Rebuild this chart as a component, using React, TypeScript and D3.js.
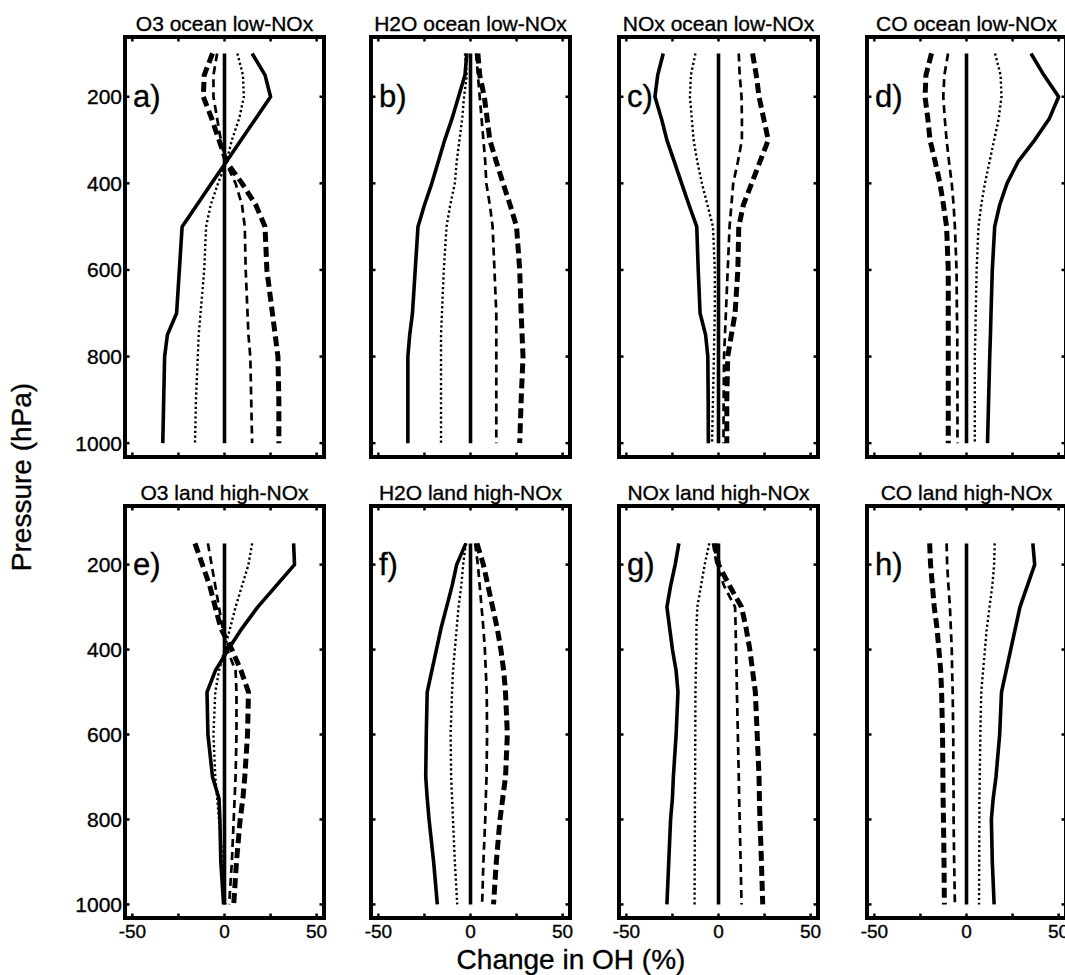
import React from 'react';
import * as d3 from 'd3';

// Pressure levels (hPa)
const TOP_LEVELS = [100, 150, 200, 250, 300, 350, 400, 450, 500, 600, 700, 750, 800, 900, 1000];
const BOTTOM_LEVELS = [150, 200, 250, 300, 350, 400, 450, 500, 600, 700, 750, 800, 900, 1000];

const X_TICKS = [-50, -25, 0, 25, 50];
const X_TICK_LABELS = [-50, 0, 50];
const Y_TICKS = [200, 400, 600, 800, 1000];

const PANEL_TITLES = [
  'O3 ocean low-NOx', 'H2O ocean low-NOx', 'NOx ocean low-NOx', 'CO ocean low-NOx',
  'O3 land high-NOx', 'H2O land high-NOx', 'NOx land high-NOx', 'CO land high-NOx',
];
const PANEL_LETTERS = ['a)', 'b)', 'c)', 'd)', 'e)', 'f)', 'g)', 'h)'];

// a) O3 ocean low-NOx
const A_SOLID = [15, 22, 25, 17, 9, 1, -7, -15, -23, -24.5, -26, -31, -32.5, -33, -33.5];
const A_DOTTED = [7, 10, 10.5, 8, 4, 1, -3.5, -7.5, -10, -11, -13, -14, -14.5, -15.5, -16];
const A_THIN_DASH = [-4, -6, -6, -4, -2, 0.5, 6, 9.5, 11, 11.5, 12.5, 13, 14, 14.5, 15];
const A_THICK_DASH = [-6.5, -11, -11.5, -7, -3, 1, 9.5, 17, 22, 23, 26, 27.5, 29, 29.5, 29.5];

// b) H2O ocean low-NOx
const B_SOLID = [-2, -3, -6.5, -10, -14, -17.5, -21, -25, -28.5, -30, -31.5, -33, -34, -34, -34];
const B_DOTTED = [-3, -2, -3.5, -4.5, -6, -7.5, -8.5, -11, -13, -14.5, -15.5, -16, -16, -16, -16];
const B_THIN_DASH = [3, 4, 5, 6, 7, 8, 8.6, 10.5, 12, 13, 14, 14, 14, 14, 14];
const B_THICK_DASH = [4, 5, 7.5, 9, 10.5, 14, 17.7, 21.5, 25, 26.7, 27.5, 28, 28.5, 27.5, 26.7];

// c) NOx ocean low-NOx
const C_SOLID = [-30, -33, -34.5, -31, -28, -24, -20, -16, -11.8, -11, -10, -7, -5.8, -5.6, -5.5];
const C_DOTTED = [-12.5, -15, -15.5, -14.5, -13.5, -11.5, -9, -6, -3, -2, -2, -2.3, -2.5, -3, -3.5];
const C_THIN_DASH = [11, 11.5, 12.5, 12.7, 12.7, 10.5, 8, 7, 6, 5, 4, 3.5, 3, 2.8, 2.7];
const C_THICK_DASH = [18.5, 20.5, 22, 24.5, 27, 22.5, 18, 13.5, 11, 10.5, 9, 7, 5, 4.5, 4.5];

// d) CO ocean low-NOx
const D_SOLID = [35, 42, 50, 45, 37, 28, 22, 18, 15.3, 14, 13.3, 13, 12.6, 12, 11.4];
const D_DOTTED = [15.5, 18.5, 19, 17.5, 15, 12.5, 10, 8, 6.5, 5.5, 5, 4.8, 4.5, 4.5, 4.5];
const D_THIN_DASH = [-10, -12, -12.6, -11.8, -10.8, -9.5, -8, -7, -6.3, -5.4, -5.2, -5, -5, -4.9, -4.9];
const D_THICK_DASH = [-19, -22, -22.5, -21, -19.8, -17, -14.4, -12.5, -10.8, -9.9, -9.9, -9.9, -9.9, -9.9, -9.9];

// e) O3 land high-NOx
const E_SOLID = [37.5, 38, 28, 18, 9.5, 2, -5, -9.5, -9, -6.5, -3, -2.5, -2, -0.5];
const E_DOTTED = [15, 13, 9.5, 6, 3, 0, -3, -5, -6, -5, -4, -3, -1, 0.5];
const E_THIN_DASH = [-9, -7, -5, -3, -1, 1.5, 6, 6.5, 6.5, 6, 5.5, 5, 4, 2.5];
const E_THICK_DASH = [-16, -12, -8, -5, -2, 4, 9, 13, 12.5, 11, 10, 8.5, 6.5, 5];

// f) H2O land high-NOx
const F_SOLID = [-2.5, -7.5, -10, -13, -16, -18.5, -21, -23.5, -24, -24.3, -23.5, -22.5, -20, -18];
const F_DOTTED = [-2.5, -4, -5, -6.5, -7.5, -8.5, -9.5, -10, -10.8, -10.5, -10, -9.5, -8.5, -7.2];
const F_THIN_DASH = [2.5, 4, 5, 6, 7, 7.8, 8.3, 8.8, 9, 8.7, 8.3, 8, 7, 6.3];
const F_THICK_DASH = [3.5, 7, 9.5, 12, 14.5, 16.5, 18, 19, 20, 19, 17.5, 16, 14, 12.5];

// g) NOx land high-NOx
const G_SOLID = [-21.5, -23.5, -26, -28, -26.5, -25, -23, -22, -23, -24.5, -25, -26, -27, -28];
const G_DOTTED = [-5, -7.5, -9.5, -11.5, -12, -12, -12.3, -12.5, -12.6, -12.7, -12.8, -12.8, -12.9, -13];
const G_THIN_DASH = [-3, -1, 3, 9, 9.3, 9.5, 9.8, 10, 10.5, 11, 11.2, 11.5, 12, 12.5];
const G_THICK_DASH = [-2, 0, 6, 12.5, 15, 17, 18.5, 20, 21, 22, 22.2, 22.5, 23.3, 24];

// h) CO land high-NOx
const H_SOLID = [36, 37, 33, 29, 26.5, 24, 21.5, 19, 18, 16, 14.5, 13.5, 14, 15];
const H_DOTTED = [15.3, 15, 14, 12.5, 11, 10, 9, 8, 7.5, 7.2, 7, 7, 6.9, 6.8];
const H_THIN_DASH = [-10.8, -10.5, -9.8, -9, -8.5, -8, -7.8, -7.5, -7.2, -7.1, -7, -7, -6.7, -6.3];
const H_THICK_DASH = [-20, -19.5, -18.5, -17.5, -16, -15, -14, -13.5, -13, -12.8, -12.7, -12.5, -12.2, -12];

const PANEL_SERIES = [
  [A_SOLID, A_DOTTED, A_THIN_DASH, A_THICK_DASH],
  [B_SOLID, B_DOTTED, B_THIN_DASH, B_THICK_DASH],
  [C_SOLID, C_DOTTED, C_THIN_DASH, C_THICK_DASH],
  [D_SOLID, D_DOTTED, D_THIN_DASH, D_THICK_DASH],
  [E_SOLID, E_DOTTED, E_THIN_DASH, E_THICK_DASH],
  [F_SOLID, F_DOTTED, F_THIN_DASH, F_THICK_DASH],
  [G_SOLID, G_DOTTED, G_THIN_DASH, G_THICK_DASH],
  [H_SOLID, H_DOTTED, H_THIN_DASH, H_THICK_DASH],
];

const STYLES = [
  { w: 3.6, dash: undefined as string | undefined },
  { w: 2.4, dash: '2.2,2.6' },
  { w: 2.7, dash: '8,5' },
  { w: 5, dash: '10,5' },
];

const FONT = '"Liberation Sans", Arial, Helvetica, sans-serif';
const TEXT_STROKE = 0.35;
const W = 1065;
const H = 975;
const PANEL_LEFTS = [125, 371, 619, 867];
const PANEL_W = 199;
const ROW_RANGES: [number, number][] = [[37, 457], [506, 918]];
const X_DOMAIN: [number, number] = [-54, 54];
const Y_DOMAIN: [number, number] = [62, 1032];

function Panel({ idx }: { idx: number }) {
  const row = idx < 4 ? 0 : 1;
  const col = idx % 4;
  const left = PANEL_LEFTS[col];
  const [top, bottom] = ROW_RANGES[row];
  const x = d3.scaleLinear().domain(X_DOMAIN).range([left, left + PANEL_W]);
  const y = d3.scaleLinear().domain(Y_DOMAIN).range([top, bottom]);
  const levels = row === 0 ? TOP_LEVELS : BOTTOM_LEVELS;
  const line = d3
    .line<[number, number]>()
    .x((d) => x(d[1]))
    .y((d) => y(d[0]));
  const series = PANEL_SERIES[idx];
  const tl = 4.5;
  const textProps = {
    fontFamily: FONT,
    fill: '#000',
    stroke: '#000',
    strokeWidth: TEXT_STROKE,
  };
  return (
    <g>
      <line
        x1={x(0)}
        x2={x(0)}
        y1={y(levels[0])}
        y2={y(1000)}
        stroke="#000"
        strokeWidth={3.6}
      />
      {series.map((vals, si) => {
        const pts = levels.map((p, i) => [p, vals[i]] as [number, number]);
        const st = STYLES[si];
        return (
          <path
            key={si}
            d={line(pts) || ''}
            fill="none"
            stroke="#000"
            strokeWidth={st.w}
            strokeDasharray={st.dash}
            strokeLinejoin="round"
          />
        );
      })}
      {X_TICKS.map((t) => (
        <g key={'xt' + t}>
          <line x1={x(t)} x2={x(t)} y1={top} y2={top + tl} stroke="#000" strokeWidth={2.5} />
          <line x1={x(t)} x2={x(t)} y1={bottom} y2={bottom - tl} stroke="#000" strokeWidth={2.5} />
        </g>
      ))}
      {Y_TICKS.map((t) => (
        <g key={'yt' + t}>
          <line x1={left} x2={left + tl} y1={y(t)} y2={y(t)} stroke="#000" strokeWidth={2.5} />
          <line x1={left + PANEL_W} x2={left + PANEL_W - tl} y1={y(t)} y2={y(t)} stroke="#000" strokeWidth={2.5} />
        </g>
      ))}
      <rect
        x={left}
        y={top}
        width={PANEL_W}
        height={bottom - top}
        fill="none"
        stroke="#000"
        strokeWidth={4}
      />
      <text x={left + PANEL_W / 2} y={top - 6} textAnchor="middle" fontSize={21} {...textProps}>
        {PANEL_TITLES[idx]}
      </text>
      <text x={left + 8} y={y(200) + 10} fontSize={31} {...textProps}>
        {PANEL_LETTERS[idx]}
      </text>
      {col === 0 &&
        Y_TICKS.map((t) => (
          <text key={'yl' + t} x={left - 3} y={y(t) + 7.5} textAnchor="end" fontSize={21} {...textProps}>
            {t}
          </text>
        ))}
      {row === 1 &&
        X_TICK_LABELS.map((t) => (
          <text key={'xl' + t} x={x(t)} y={bottom + 20} textAnchor="middle" fontSize={19} {...textProps}>
            {t}
          </text>
        ))}
    </g>
  );
}

export default function App() {
  return (
    <svg
      width={W}
      height={H}
      viewBox={`0 0 ${W} ${H}`}
      style={{ position: 'absolute', left: 0, top: 0, background: '#fff' }}
    >
      <rect x={0} y={0} width={W} height={H} fill="#fff" />
      {PANEL_TITLES.map((_, i) => (
        <Panel key={i} idx={i} />
      ))}
      <text
        transform="translate(31,477) rotate(-90)"
        textAnchor="middle"
        fontFamily={FONT}
        fontSize={28}
        stroke="#000"
        strokeWidth={TEXT_STROKE}
      >
        Pressure (hPa)
      </text>
      <text
        x={571}
        y={969}
        textAnchor="middle"
        fontFamily={FONT}
        fontSize={28}
        stroke="#000"
        strokeWidth={TEXT_STROKE}
      >
        Change in OH (%)
      </text>
    </svg>
  );
}
